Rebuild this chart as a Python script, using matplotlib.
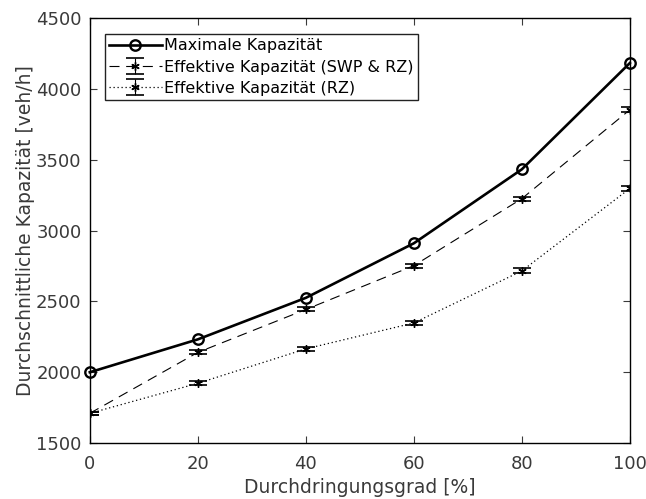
import numpy as np
import matplotlib
matplotlib.use('Agg')
import matplotlib.pyplot as plt

# penetration rate [%]
penetration = [0, 20, 40, 60, 80, 100]

# capacities [veh/h]
cap_max = [2000, 2232, 2525, 2910, 3432, 4182]
cap_swp_rz = [1710, 2140, 2443, 2752, 3225, 3852]
cap_rz = [1710, 1922, 2165, 2348, 2715, 3297]

# error half-widths [veh/h]
err_swp_rz = [12, 14, 14, 14, 15, 18]
err_rz = [12, 15, 15, 15, 18, 18]

plt.rcParams['font.family'] = 'DejaVu Sans'
asterisk = (6, 2, 0)

fig = plt.figure(figsize=(6.46, 4.99), dpi=100)
ax = fig.add_axes([0.139, 0.112, 0.836, 0.852])

ax.plot(penetration, cap_max, '-', color='black', lw=1.9, marker='o',
        markersize=7.5, markerfacecolor='none', markeredgewidth=1.7,
        label='Maximale Kapazität', clip_on=False, zorder=4)
ax.errorbar(penetration, cap_swp_rz, yerr=err_swp_rz, color='black', lw=0.8,
            ls=(0, (9, 6)), marker=asterisk, markersize=6, capsize=6.5,
            elinewidth=0.8, capthick=1.2, label='Effektive Kapazität (SWP & RZ)')
ax.errorbar(penetration, cap_rz, yerr=err_rz, color='black', lw=0.9,
            ls=(0, (1, 2.2)), marker=asterisk, markersize=6, capsize=6.5,
            elinewidth=0.8, capthick=1.2, label='Effektive Kapazität (RZ)')

ax.set_xlim(0, 100)
ax.set_ylim(1500, 4500)
ax.set_xticks(np.arange(0, 101, 20))
ax.set_yticks(np.arange(1500, 4501, 500))
ax.tick_params(direction='in', length=5, labelsize=13, colors='#3a3a3a',
               top=True, right=True)
ax.tick_params(axis='x', pad=8.5)
ax.tick_params(axis='y', pad=6)
ax.tick_params(labeltop=False, labelright=False)
for s in ax.spines.values():
    s.set_color('black')
    s.set_linewidth(1.0)

ax.set_xlabel('Durchdringungsgrad [%]', fontsize=13.5, color='#3a3a3a', labelpad=4)
ax.set_ylabel('Durchschnittliche Kapazität [veh/h]', fontsize=13.5, color='#3a3a3a',
              labelpad=1)

leg = ax.legend(loc='upper left', fontsize=11.5, fancybox=False, framealpha=1,
                edgecolor='#222222', borderpad=0.25, labelspacing=0.4,
                handlelength=3.3, handletextpad=0.15, borderaxespad=0,
                bbox_to_anchor=(0.028, 0.962))
leg.get_frame().set_linewidth(1.0)

fig.savefig('out.png', dpi=100)
